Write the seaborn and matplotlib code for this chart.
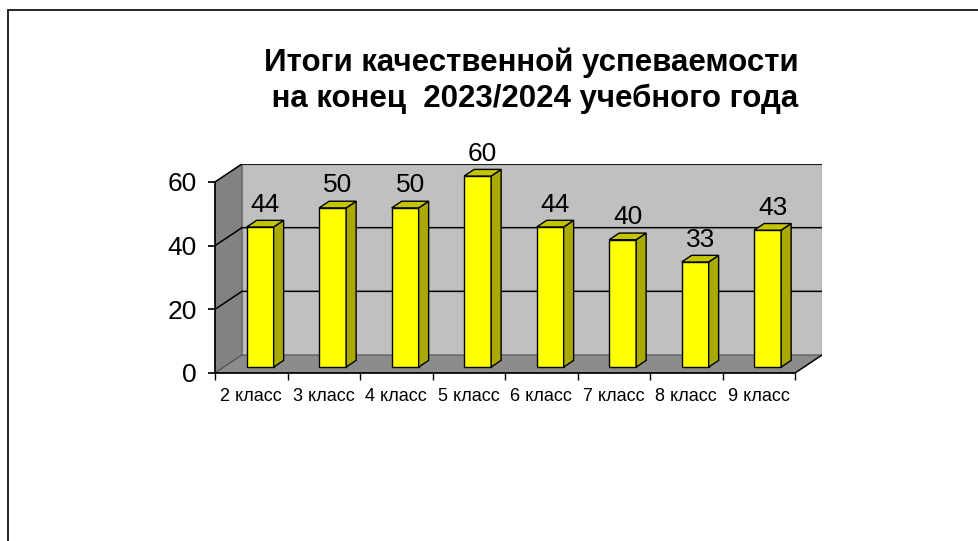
import matplotlib
matplotlib.use('Agg')
import matplotlib.pyplot as plt
from matplotlib.patches import Polygon, Rectangle
import numpy as np
import pandas as pd
import seaborn as sns

# data
classes = ['2 класс', '3 класс', '4 класс', '5 класс', '6 класс', '7 класс', '8 класс', '9 класс']
quality = [44, 50, 50, 60, 44, 40, 33, 43]
yticks = [0, 20, 40, 60]
title = 'Итоги качественной успеваемости\n на конец  2023/2024 учебного года'

sns.set_theme(style='white')
plt.rcParams['font.family'] = ['Liberation Sans', 'DejaVu Sans']
plt.rcParams['text.color'] = 'black'
plt.rcParams['xtick.color'] = 'black'
plt.rcParams['ytick.color'] = 'black'

df = pd.DataFrame({'class': classes, 'value': quality})

fig = plt.figure(figsize=(9.79, 5.41), dpi=100)
# slide frame
fig.patches.append(Rectangle((8 / 979, -0.1), 1.1, 1 - 10 / 541 + 0.1, transform=fig.transFigure,
                             fill=False, edgecolor='black', linewidth=1.2))

ax = fig.add_axes([215 / 979, 168 / 541, 607 / 979, 209 / 541])

# depth of the 3d box in data units
DX, DY = 0.372, 5.65
ymax = 60
n = len(classes)
x0, x1 = -0.5, n - 0.5

bw = 0.372
f0, fd = 0.33, 0.37  # bar front position and bar depth (fractions of box depth)

sns.barplot(data=df, x='class', y='value', color='#ffff00', width=bw, saturation=1,
            edgecolor='black', linewidth=1, ax=ax, zorder=5)

for bar in ax.containers[0]:
    bar.set_x(bar.get_x() + f0 * DX)
    bar.set_y(f0 * DY)

# walls
side = '#a9a900'
ax.add_patch(Polygon([(x0, 0), (x0, ymax), (x0 + DX, ymax + DY), (x0 + DX, DY)],
                     closed=True, facecolor='#828282', edgecolor='#555555', lw=0.8, zorder=1))
ax.add_patch(Polygon([(x0 + DX, DY), (x1 + DX, DY), (x1 + DX, ymax + DY), (x0 + DX, ymax + DY)],
                     closed=True, facecolor='#c0c0c0', edgecolor='#808080', lw=1, zorder=1))
ax.add_patch(Polygon([(x0, 0), (x1, 0), (x1 + DX, DY), (x0 + DX, DY)],
                     closed=True, facecolor='#8c8c8c', edgecolor='#555555', lw=0.8, zorder=1))
for v in yticks[1:]:
    ax.plot([x0, x0 + DX, x1 + DX], [v, v + DY, v + DY], color='black', lw=1.1, zorder=2)
ax.plot([x1, x1 + DX], [0, DY], color='black', lw=1, zorder=2)

# 3d sides and tops of bars, and value labels
for i, v in enumerate(quality):
    bx = i - bw / 2 + f0 * DX
    by = f0 * DY
    ddx, ddy = fd * DX, fd * DY
    ax.add_patch(Polygon([(bx + bw, by), (bx + bw + ddx, by + ddy), (bx + bw + ddx, by + v + ddy), (bx + bw, by + v)],
                         closed=True, facecolor=side, edgecolor='black', lw=1, zorder=5))
    ax.add_patch(Polygon([(bx, by + v), (bx + bw, by + v), (bx + bw + ddx, by + v + ddy), (bx + ddx, by + v + ddy)],
                         closed=True, facecolor='#c4c400', edgecolor='black', lw=1, zorder=5))
    ax.text(bx + bw / 2 + ddx / 2, by + v + ddy + 1.2, str(v), ha='center', va='bottom',
            fontsize=19, color='black', zorder=6)

ax.set_xlim(x0, x1 + DX)
ax.set_ylim(0, ymax + DY)
for s in ['top', 'right']:
    ax.spines[s].set_visible(False)
ax.spines['left'].set_bounds(0, ymax)
ax.spines['bottom'].set_bounds(x0, x1)
ax.spines['left'].set_color('black')
ax.spines['bottom'].set_color('black')
ax.patch.set_alpha(0)

ax.set_yticks(yticks)
ax.set_yticklabels([str(t) for t in yticks], fontsize=19)
ax.set_xticks(range(n))
ax.set_xticklabels(classes, fontsize=13)
ax.set_xticks(np.arange(x0, x1 + 0.01, 1), minor=True)
ax.tick_params(axis='x', which='major', length=0, pad=11)
ax.tick_params(axis='x', which='minor', length=5, direction='out', color='black', bottom=True)
ax.tick_params(axis='y', length=5, direction='out', color='black', left=True, pad=8)
ax.set_xlabel('')
ax.set_ylabel('')

fig.text(531 / 979, 1 - 47 / 541, title, ha='center', va='top', fontsize=22.5, fontweight='bold',
         linespacing=1.25)

fig.savefig('out.png', dpi=100)
